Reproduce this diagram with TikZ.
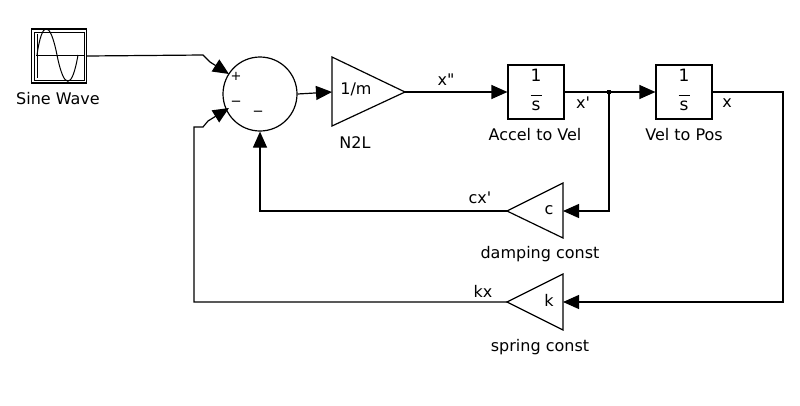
\documentclass[tikz,border=0pt]{standalone}
\usepackage{fontspec}
\setmainfont{DejaVu Sans}
\usetikzlibrary{arrows.meta}
\begin{document}
\begin{tikzpicture}[x=1pt,y=-1pt,line width=1.2pt,
  lbl/.style={font=\fontsize{16}{18}\selectfont,inner sep=0pt},
  sig/.style={-{Triangle[length=16pt,width=14pt]}},
  blk/.style={draw,minimum width=56pt,minimum height=54pt,inner sep=0pt}]
\useasboundingbox (0,0) rectangle (800,405);
% sine wave
\node[blk,minimum width=55pt,minimum height=54pt] (sine) at (59,56) {};
\draw[line width=0.8pt] (34,32) rectangle (84,80);
\draw[line width=0.9pt] (37,34)--(37,78) (36,55)--(84,55);
\draw[line width=1pt] (37,55) .. controls (42,20) and (50,20) .. (57,55) .. controls (64,90) and (72,90) .. (78,55);
\node[lbl] (sinel) at (58,99) {Sine Wave};
% sum
\node[draw,circle,minimum size=74pt,inner sep=0pt] (sum) at (260,94) {};
\node[lbl,font=\fontsize{13}{14}\selectfont] at (236,76) {+};
\node[lbl] at (236,100) {\_};
\node[lbl] at (258,110) {\_};
% gain 1/m
\coordinate (gin) at (332,92); \coordinate (gout) at (405,92);
\draw (332,57)--(405,92)--(332,126)--cycle;
\node[lbl] (m) at (356,89) {1/m};
\node[lbl] (n2l) at (355,143) {N2L};
% integrators
\node[blk] (i1) at (536,92) {};
\node[lbl] at (536,92) {$\vcenter{\hbox{\fontsize{17}{18}\selectfont\begin{tabular}{@{}c@{}}1\\[-3pt]\rule{11pt}{0.8pt}\\[-4pt]s\end{tabular}}}$};
\node[lbl] (i1l) at (535,135) {Accel to Vel};
\node[blk] (i2) at (684,92) {};
\node[lbl] at (684,92) {$\vcenter{\hbox{\fontsize{17}{18}\selectfont\begin{tabular}{@{}c@{}}1\\[-3pt]\rule{11pt}{0.8pt}\\[-4pt]s\end{tabular}}}$};
\node[lbl] (i2l) at (684,135) {Vel to Pos};
% gains c, k
\draw (563,183)--(507,211)--(563,238)--cycle;
\coordinate (cin) at (563,211); \coordinate (cout) at (507,211);
\node[lbl] at (549,210) {c};
\node[lbl] (cl) at (540,254) {damping const};
\draw (563,274)--(507,302)--(563,330)--cycle;
\coordinate (kin) at (563,302); \coordinate (kout) at (507,302);
\node[lbl] at (549,300) {k};
\node[lbl] (kl) at (540,347) {spring const};
% wires
\coordinate (br) at (609,92);
\draw (sine.east) -- (203,55) -- (210,62);
\draw[sig] (210,62) -- (229,74);
\draw (kout) -- (194,302) -- (194,127) -- (203,127) -- (208,121);
\draw[sig] (208,121) -- (229,108);
\draw[sig] (cout) -- (260,211) -- (sum.south);
\draw[sig] (sum.east) -- (gin);
\draw[sig] (gout) -- (i1.west);
\draw (i1.east) -- (br);
\draw[sig] (br) -- (i2.west);
\draw[sig] (br) -- (609,211) -- (cin);
\fill (br) ++(-2,-2) rectangle ++(4,4);
\draw[sig] (i2.east) -- (783,92) -- (783,302) -- (kin);
\node[lbl] at (446,80) {x\textquotedbl};
\node[lbl] at (583,103) {x\textquotesingle};
\node[lbl] at (727,103) {x};
\node[lbl] at (480,198) {cx\textquotesingle};
\node[lbl] at (483,291) {kx};
\end{tikzpicture}
\end{document}
